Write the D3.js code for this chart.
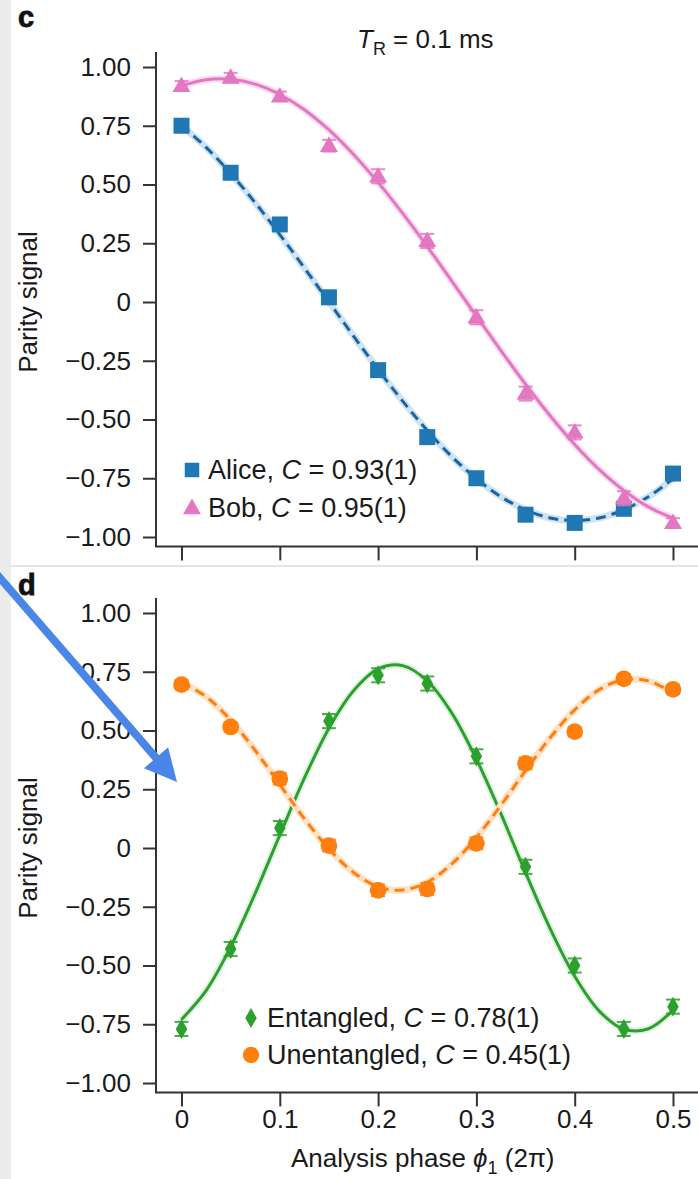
<!DOCTYPE html>
<html>
<head>
<meta charset="utf-8">
<script src="https://cdn.jsdelivr.net/npm/d3@7"></script>
<style>
  html, body { margin: 0; padding: 0; background: #fff; }
  svg { display: block; font-family: "Liberation Sans", Arial, Helvetica, sans-serif; }
</style>
</head>
<body>
<svg id="fig" width="698" height="1179"></svg>
<script>
// ---- measured parity signals (panel c: single qubits, panel d: two-qubit) ----
const phases = [0, 0.05, 0.1, 0.15, 0.2, 0.25, 0.3, 0.35, 0.4, 0.45, 0.5];

const aliceParity = [0.75, 0.55, 0.33, 0.02, -0.29, -0.575, -0.75, -0.905, -0.94, -0.88, -0.73];
const aliceErr    = [0.02, 0.02, 0.02, 0.02, 0.02, 0.02, 0.02, 0.02, 0.02, 0.02, 0.02];
const bobParity   = [0.92, 0.955, 0.875, 0.665, 0.535, 0.26, -0.065, -0.39, -0.555, -0.835, -0.94];
const bobErr      = [0.02, 0.02, 0.02, 0.025, 0.03, 0.03, 0.03, 0.03, 0.03, 0.03, 0.02];

const entangledParity   = [-0.77, -0.43, 0.085, 0.54, 0.735, 0.70, 0.39, -0.08, -0.50, -0.77, -0.675];
const entangledErr      = [0.03, 0.03, 0.03, 0.03, 0.03, 0.03, 0.03, 0.03, 0.03, 0.03, 0.03];
const unentangledParity = [0.695, 0.515, 0.295, 0.01, -0.18, -0.175, 0.02, 0.36, 0.495, 0.72, 0.675];
const unentangledErr    = [0.02, 0.02, 0.025, 0.025, 0.025, 0.025, 0.025, 0.025, 0.02, 0.02, 0.02];

// ---- fitted curves, sampled every 0.025 of 2π ----
const fitPhases = [0, 0.025, 0.05, 0.075, 0.1, 0.125, 0.15, 0.175, 0.2, 0.225, 0.25,
                   0.275, 0.3, 0.325, 0.35, 0.375, 0.4, 0.425, 0.45, 0.475, 0.5];
const aliceFit = [0.752, 0.658, 0.547, 0.422, 0.287, 0.145, 0.0, -0.145, -0.287, -0.422, -0.547,
                  -0.658, -0.752, -0.829, -0.884, -0.919, -0.93, -0.919, -0.884, -0.829, -0.752];
const bobFit   = [0.92, 0.946, 0.948, 0.927, 0.883, 0.818, 0.732, 0.628, 0.509, 0.377, 0.236,
                  0.089, -0.06, -0.207, -0.35, -0.484, -0.606, -0.713, -0.802, -0.872, -0.92];
const entangledFit   = [-0.73, -0.607, -0.421, -0.193, 0.055, 0.297, 0.51, 0.669, 0.762, 0.776, 0.711,
                        0.574, 0.378, 0.145, -0.105, -0.343, -0.546, -0.694, -0.771, -0.769, -0.69];
const unentangledFit = [0.705, 0.644, 0.544, 0.415, 0.27, 0.125, -0.004, -0.104, -0.165, -0.179, -0.146,
                        -0.068, 0.045, 0.182, 0.329, 0.469, 0.588, 0.674, 0.716, 0.711, 0.66];

// ---- axes ----
const yTicks      = [1, 0.75, 0.5, 0.25, 0, -0.25, -0.5, -0.75, -1];
const yTickLabels = ["1.00", "0.75", "0.50", "0.25", "0", "\u22120.25", "\u22120.50", "\u22120.75", "\u22121.00"];
const xTicks      = [0, 0.1, 0.2, 0.3, 0.4, 0.5];
const xTickLabels = ["0", "0.1", "0.2", "0.3", "0.4", "0.5"];
const yFrame = [-1.04, 1.064];

const svg = d3.select("#fig");
const W = 698;
const axisColor = "#333";
const textColor = "#1a1a1a";
const font = 26;
const legendFont = 27;

// page furniture
svg.append("rect").attr("x", 0).attr("y", 0).attr("width", W).attr("height", 1179).attr("fill", "#fff");
svg.append("rect").attr("x", 0).attr("y", 0).attr("width", 11).attr("height", 1179).attr("fill", "#ececec");
svg.append("line").attr("x1", 11).attr("x2", W).attr("y1", 566).attr("y2", 566)
  .attr("stroke", "#e4e4e4").attr("stroke-width", 2);

const x = d3.scaleLinear().domain([0, 0.5]).range([181.5, 673]);
const axisX = 156;

function panel(opts) {
  const g = svg.append("g");
  const y = d3.scaleLinear().domain([-1, 1]).range([opts.yBottom, opts.yTop]);

  // y axis
  const yAxis = d3.axisLeft(y).tickValues(yTicks)
    .tickFormat((d, i) => yTickLabels[i]).tickSize(13).tickPadding(12);
  const ya = g.append("g").attr("transform", `translate(${axisX},0)`).call(yAxis);
  ya.select(".domain").remove();
  ya.selectAll(".tick line").attr("stroke", axisColor).attr("stroke-width", 2);
  ya.selectAll(".tick text").attr("fill", textColor).attr("font-size", font)
    .attr("font-family", "'Liberation Sans', Arial, sans-serif");
  g.append("line").attr("x1", axisX).attr("x2", axisX)
    .attr("y1", y(yFrame[0])).attr("y2", y(yFrame[1]))
    .attr("stroke", axisColor).attr("stroke-width", 2);

  // x axis
  const xBase = y(yFrame[0]);
  const xAxis = d3.axisBottom(x).tickValues(xTicks)
    .tickFormat((d, i) => opts.xLabels ? xTickLabels[i] : "").tickSize(14).tickPadding(3);
  const xa = g.append("g").attr("transform", `translate(0,${xBase})`).call(xAxis);
  xa.select(".domain").remove();
  xa.selectAll(".tick line").attr("stroke", axisColor).attr("stroke-width", 2);
  xa.selectAll(".tick text").attr("fill", textColor).attr("font-size", font)
    .attr("font-family", "'Liberation Sans', Arial, sans-serif");
  g.append("line").attr("x1", axisX - 1).attr("x2", W)
    .attr("y1", xBase).attr("y2", xBase)
    .attr("stroke", axisColor).attr("stroke-width", 2);

  // y label
  g.append("text")
    .attr("transform", `translate(37,${y(0)}) rotate(-90)`)
    .attr("text-anchor", "middle").attr("font-size", font).attr("fill", textColor)
    .text("Parity signal");

  // panel letter
  g.append("text").attr("x", 18).attr("y", opts.letterY)
    .attr("font-size", 29).attr("font-weight", "900").attr("fill", "#111")
    .attr("stroke", "#111").attr("stroke-width", 0.8)
    .text(opts.letter);

  const line = d3.line().x(d => x(d[0])).y(d => y(d[1])).curve(d3.curveCatmullRom.alpha(0.5));

  opts.series.forEach(s => {
    const fitPts = fitPhases.map((p, i) => [p, s.fit[i]]);
    g.append("path").attr("d", line(fitPts)).attr("fill", "none")
      .attr("stroke", s.halo).attr("stroke-width", 7).attr("stroke-linecap", "round");
    g.append("path").attr("d", line(fitPts)).attr("fill", "none")
      .attr("stroke", s.lineColor).attr("stroke-width", 3)
      .attr("stroke-dasharray", s.dashed ? "10,6" : null);
  });

  opts.series.forEach(s => {
    const pts = phases.map((p, i) => ({ p, v: s.values[i], e: s.err[i] }));
    const eb = g.append("g").attr("stroke", s.color).attr("stroke-width", 2).attr("opacity", 0.85);
    pts.forEach(d => {
      const cx = x(d.p), y1 = y(d.v + d.e), y2 = y(d.v - d.e);
      eb.append("line").attr("x1", cx).attr("x2", cx).attr("y1", y1).attr("y2", y2);
      eb.append("line").attr("x1", cx - 7).attr("x2", cx + 7).attr("y1", y1).attr("y2", y1);
      eb.append("line").attr("x1", cx - 7).attr("x2", cx + 7).attr("y1", y2).attr("y2", y2);
    });
    g.selectAll(null).data(pts).enter().append("path")
      .attr("d", d3.symbol().type(s.symbol).size(s.size))
      .attr("transform", d => `translate(${x(d.p)},${y(d.v) + (s.dy || 0)})`)
      .attr("fill", s.color);
  });

  // legend
  opts.series.forEach((s, i) => {
    const ly = opts.legendY[i];
    g.append("path").attr("d", d3.symbol().type(s.symbol).size(s.legendSize))
      .attr("transform", `translate(${opts.legendX},${ly + (s.dy || 0)})`).attr("fill", s.color);
    const t = g.append("text").attr("x", opts.legendX + 16).attr("y", ly + 9)
      .attr("font-size", legendFont).attr("fill", textColor);
    t.append("tspan").text(s.name + ", ");
    t.append("tspan").attr("font-style", "italic").text("C");
    t.append("tspan").text(" = " + s.contrast);
  });
  return y;
}

panel({
  yTop: 67, yBottom: 537, letter: "c", letterY: 27, xLabels: false,
  legendX: 192, legendY: [470, 508],
  series: [
    { name: "Alice", contrast: "0.93(1)", values: aliceParity, err: aliceErr, fit: aliceFit,
      color: "#1f77b4", lineColor: "#1c64a0", halo: "#cfe4f3", dashed: true,
      symbol: d3.symbolSquare, size: 256, legendSize: 210 },
    { name: "Bob", contrast: "0.95(1)", values: bobParity, err: bobErr, fit: bobFit,
      color: "#e377c2", lineColor: "#e377c2", halo: "#f8ddf0", dashed: false,
      symbol: d3.symbolTriangle, size: 140, legendSize: 140, dy: 1 }
  ]
});

panel({
  yTop: 613, yBottom: 1083, letter: "d", letterY: 595, xLabels: true,
  legendX: 251, legendY: [1018, 1055],
  series: [
    { name: "Entangled", contrast: "0.78(1)", values: entangledParity, err: entangledErr, fit: entangledFit,
      color: "#2ca02c", lineColor: "#2ca02c", halo: "#e3f3e3", dashed: false,
      symbol: d3.symbolDiamond, size: 115, legendSize: 115 },
    { name: "Unentangled", contrast: "0.45(1)", values: unentangledParity, err: unentangledErr, fit: unentangledFit,
      color: "#ff7f0e", lineColor: "#ff7f0e", halo: "#ffe3c8", dashed: true,
      symbol: d3.symbolCircle, size: 220, legendSize: 210 }
  ]
});

// panel c title
const title = svg.append("text").attr("x", 357).attr("y", 48).attr("font-size", font).attr("fill", textColor);
title.append("tspan").attr("font-style", "italic").text("T");
title.append("tspan").attr("font-size", 18).attr("dy", 7).text("R");
title.append("tspan").attr("dy", -7).text(" = 0.1 ms");

// x axis title
const xt = svg.append("text").attr("x", 291).attr("y", 1167).attr("font-size", font).attr("fill", textColor);
xt.append("tspan").text("Analysis phase ");
xt.append("tspan").attr("font-style", "italic").text("\u03D5");
xt.append("tspan").attr("font-size", 18).attr("dy", 7).text("1");
xt.append("tspan").attr("dy", -7).text(" (2\u03C0)");

// annotation arrow
const arrowStart = [0, 578], arrowTip = [177, 782];
const ang = Math.atan2(arrowTip[1] - arrowStart[1], arrowTip[0] - arrowStart[0]);
const headLen = 32, headHalf = 16;
const bx = arrowTip[0] - headLen * Math.cos(ang), by = arrowTip[1] - headLen * Math.sin(ang);
svg.append("line")
  .attr("x1", arrowStart[0] - 10 * Math.cos(ang)).attr("y1", arrowStart[1] - 10 * Math.sin(ang))
  .attr("x2", bx + 2 * Math.cos(ang)).attr("y2", by + 2 * Math.sin(ang))
  .attr("stroke", "#4a86e8").attr("stroke-width", 8);
svg.append("path")
  .attr("d", d3.line()([
    arrowTip,
    [bx + headHalf * Math.sin(ang), by - headHalf * Math.cos(ang)],
    [bx - headHalf * Math.sin(ang), by + headHalf * Math.cos(ang)]
  ]) + "Z")
  .attr("fill", "#4a86e8");
</script>
</body>
</html>
